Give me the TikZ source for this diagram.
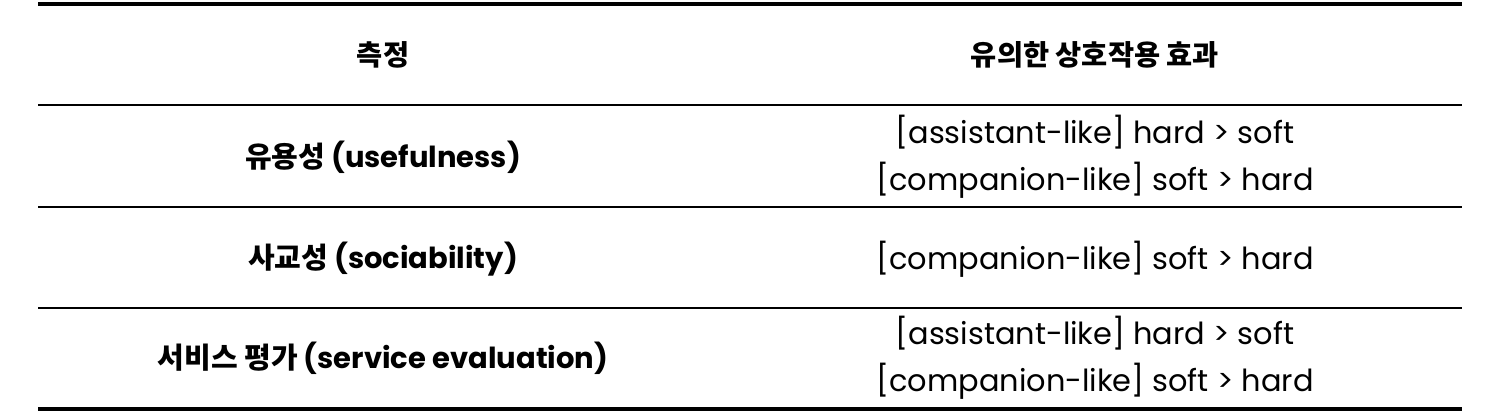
\documentclass[tikz,border=0pt]{standalone}
\usepackage{fontspec}
\setmainfont{Poppins}
\newfontfamily\kr{Noto Sans CJK KR}
\usetikzlibrary{positioning}
\tikzstyle{head}=[inner sep=0pt,font=\fontsize{14.2}{18}\selectfont\bfseries]
\tikzstyle{measure}=[inner sep=0pt,font=\fontsize{14.5}{18}\selectfont\bfseries]
\tikzstyle{effect}=[inner sep=0pt,align=center,font=\fontsize{15.2}{23.5}\selectfont]
\tikzstyle{thickrule}=[line width=2pt]
\tikzstyle{thinrule}=[line width=0.6pt]

\begin{document}
\begin{tikzpicture}[x=0.5pt,y=-0.5pt]
  \useasboundingbox (0,0) rectangle (1500,413);
  \def\lx{383};
  \def\rx{1095};

  % header
  \node[head] (head measure) at (\lx,55) {\kr 측정};
  \node[head] (head effect) at (\rx,55) {\kr 유의한 상호작용 효과};

  % rows
  \node[measure] (usefulness) at (\lx,157) {{\kr 유용성} (usefulness)};
  \node[effect] (usefulness effect) at (\rx,157)
    {{[assistant-like]} hard > soft\\{[companion-like]} soft > hard};
  \node[measure] (sociability) at (\lx,259) {{\kr 사교성} (sociability)};
  \node[effect] (sociability effect) at (\rx,259)
    {{[companion-like]} soft > hard};
  \node[measure] (service) at (\lx,358) {{\kr 서비스 평가} (service evaluation)};
  \node[effect] (service effect) at (\rx,358)
    {{[assistant-like]} hard > soft\\{[companion-like]} soft > hard};

  % rules
  \foreach \name/\y in {top/4,bottom/409} {
    \coordinate (\name\space left) at (38,\y);
    \coordinate (\name\space right) at (1462,\y);
    \draw[thickrule] (\name\space left) -- (\name\space right);
  }
  \foreach \name/\y in {head/105,one/207,two/308} {
    \coordinate (\name\space left) at (38,\y);
    \coordinate (\name\space right) at (1462,\y);
    \draw[thinrule] (\name\space left) -- (\name\space right);
  }
\end{tikzpicture}
\end{document}
